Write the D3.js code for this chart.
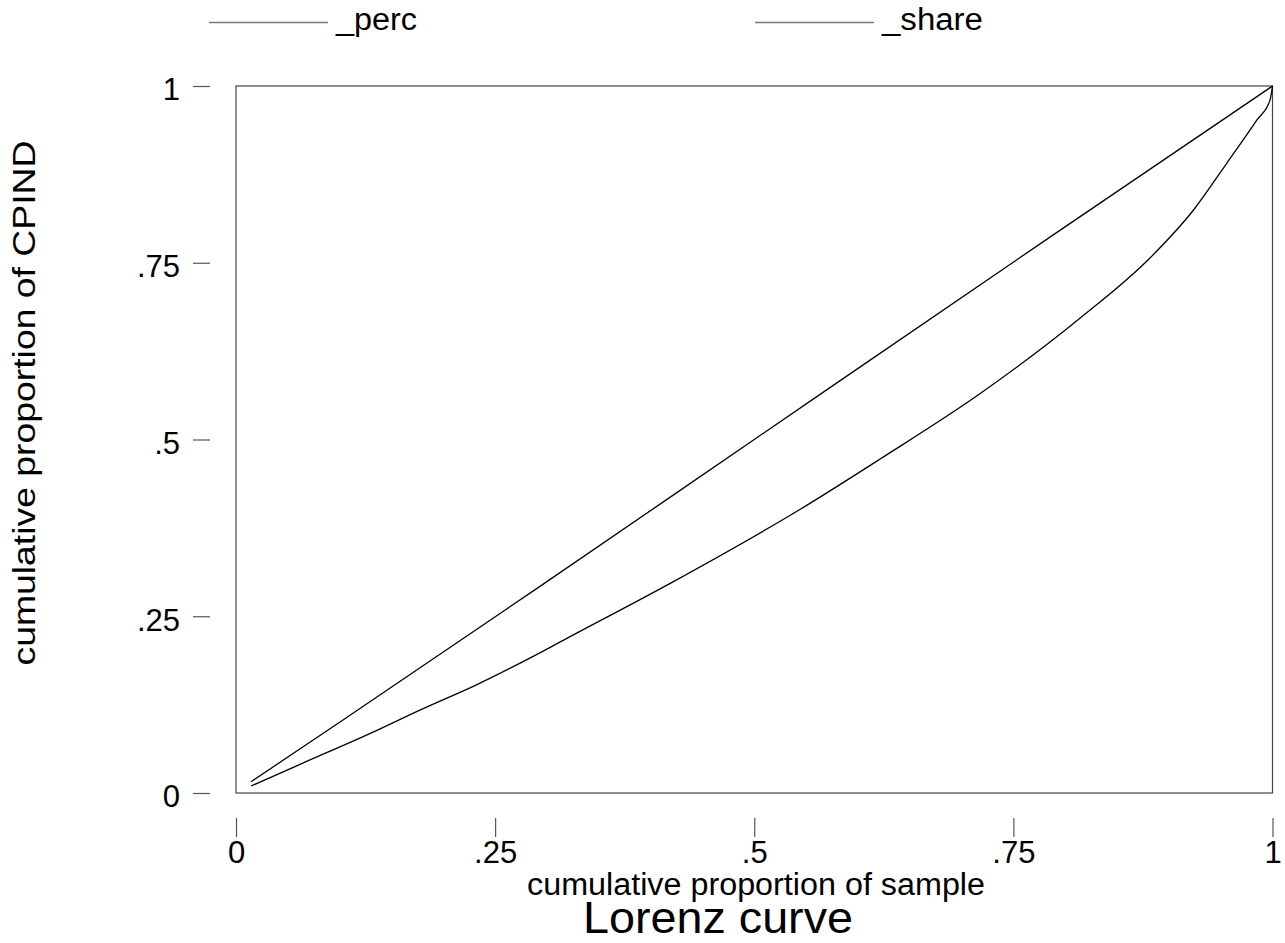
<!DOCTYPE html>
<html lang="en">
  <head>
    <meta charset="UTF-8" />
    <title>Lorenz curve</title>
    <style>
      body { margin: 0; background: #fff; }
      svg text { font-family: "Liberation Sans", Arial, Helvetica, sans-serif; fill: #000; }
    </style>
  </head>
  <body>
    <script src="https://cdn.jsdelivr.net/npm/d3@7"></script>
    <script>
      // series: [cumulative proportion of sample, cumulative proportion]
      var percX = [0.0145, 0.1, 0.289, 0.5, 0.786, 1];
      var percY = [0.016, 0.1, 0.288, 0.5, 0.787, 1];

      var shareX = [0.0145, 0.064, 0.129, 0.180, 0.232, 0.289, 0.317, 0.422, 0.544, 0.621, 0.718, 0.813, 0.882, 0.924, 0.956, 0.985, 0.9976, 1];
      var shareY = [0.0099, 0.042, 0.084, 0.119, 0.153, 0.195, 0.217, 0.299, 0.401, 0.472, 0.565, 0.670, 0.757, 0.825, 0.891, 0.952, 0.980, 1];

      var xTicks = [0, 0.25, 0.5, 0.75, 1];
      var yTicks = [0, 0.25, 0.5, 0.75, 1];
      var tickLabels = ["0", ".25", ".5", ".75", "1"];

      var w = 1285, h = 943;
      var plot = { left: 236, right: 1272.5, top: 86, bottom: 793 };

      var svg = d3.select("body").append("svg")
        .attr("width", w)
        .attr("height", h);

      var xScale = d3.scaleLinear().domain([0, 1]).range([plot.left, plot.right]);
      var yScale = d3.scaleLinear().domain([0, 1]).range([plot.bottom, plot.top]);

      function fmt(d) { return tickLabels[xTicks.indexOf(d)]; }

      // frame
      svg.append("rect")
        .attr("x", plot.left)
        .attr("y", plot.top)
        .attr("width", plot.right - plot.left)
        .attr("height", plot.bottom - plot.top)
        .attr("fill", "none")
        .attr("stroke", "#444")
        .attr("stroke-width", 1.2);

      // axes sit away from the frame
      var yAxis = d3.axisLeft(yScale).tickValues(yTicks).tickFormat(fmt)
        .tickSize(17).tickPadding(13);
      var gy = svg.append("g")
        .attr("transform", "translate(210,0)")
        .call(yAxis);

      var xAxis = d3.axisBottom(xScale).tickValues(xTicks).tickFormat(fmt)
        .tickSize(19).tickPadding(4);
      var gx = svg.append("g")
        .attr("transform", "translate(0,818)")
        .call(xAxis);

      [gx, gy].forEach(function(g) {
        g.select(".domain").remove();
        g.selectAll(".tick line").attr("stroke", "#555").attr("stroke-width", 1.2);
        g.selectAll(".tick text")
          .attr("fill", "#000")
          .style("font-size", "31px")
          .style("font-family", "'Liberation Sans', Arial, sans-serif");
      });
      gy.selectAll(".tick text").attr("dy", "0.45em");

      // curves
      var line = d3.line()
        .x(function(d) { return xScale(d[0]); })
        .y(function(d) { return yScale(d[1]); })
        .curve(d3.curveMonotoneX);

      var perc = d3.zip(percX, percY);
      var share = d3.zip(shareX, shareY);

      svg.append("path")
        .datum(perc)
        .attr("d", line)
        .attr("fill", "none")
        .attr("stroke", "#000")
        .attr("stroke-width", 1.3);

      svg.append("path")
        .datum(share)
        .attr("d", line)
        .attr("fill", "none")
        .attr("stroke", "#000")
        .attr("stroke-width", 1.3);

      // legend
      var legend = [
        { name: "_perc", x: 209, len: 81 },
        { name: "_share", x: 755, len: 101 }
      ];
      var lg = svg.selectAll(".legend")
        .data(legend)
        .enter()
        .append("g")
        .attr("class", "legend")
        .attr("transform", function(d) { return "translate(" + d.x + ",0)"; });
      lg.append("line")
        .attr("x1", 0).attr("x2", 119)
        .attr("y1", 22.5).attr("y2", 22.5)
        .attr("stroke", "#777")
        .attr("stroke-width", 1.5);
      lg.append("text")
        .attr("x", 127)
        .attr("y", 30)
        .attr("textLength", function(d) { return d.len; })
        .attr("lengthAdjust", "spacingAndGlyphs")
        .style("font-size", "31px")
        .text(function(d) { return d.name; });

      // titles
      svg.append("text")
        .attr("text-anchor", "middle")
        .attr("x", 756)
        .attr("y", 895)
        .attr("textLength", 458)
        .attr("lengthAdjust", "spacingAndGlyphs")
        .style("font-size", "31px")
        .text("cumulative proportion of sample");

      svg.append("text")
        .attr("text-anchor", "middle")
        .attr("transform", "translate(35,403)rotate(-90)")
        .attr("textLength", 525)
        .attr("lengthAdjust", "spacingAndGlyphs")
        .style("font-size", "31px")
        .text("cumulative proportion of CPIND");

      svg.append("text")
        .attr("text-anchor", "middle")
        .attr("x", 718)
        .attr("y", 933)
        .attr("textLength", 270)
        .attr("lengthAdjust", "spacingAndGlyphs")
        .style("font-size", "44px")
        .text("Lorenz curve");
    </script>
  </body>
</html>
